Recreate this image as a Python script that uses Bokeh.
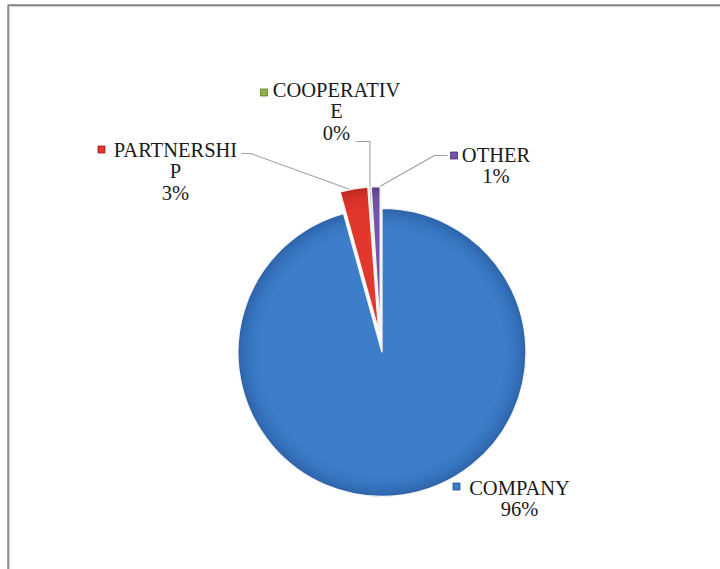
import numpy as np
from bokeh.plotting import figure
from bokeh.models import Range1d
from bokeh.core.properties import value
from bokeh.embed import file_html
from bokeh.resources import INLINE

# ---------------- data ----------------
categories = ["COMPANY", "PARTNERSHIP", "COOPERATIVE", "OTHER"]
shares = [95.7, 3.1, 0.2, 1.0]          # percent of total

# ---------------- styles / layout ----------------
fill_colors = ["#3D7DCA", "#E2372C", "#8DB544", "#7454AC"]
rim_colors = ["#1E4C8A", "#9A1D18", "#5B7A26", "#463070"]

PAGE_LEFT, PAGE_TOP = 0, 0
W, H = 720, 569
PAGE_BOTTOM = PAGE_TOP + H


def fy(py):
    """page y (down) -> data y (up)"""
    return PAGE_BOTTOM - py


CX, CY, R, EXPLODE = 380, 341, 144, 11
WRAP = 10
LINE_SP = 21.5
FONT = "Liberation Serif"
FONT_SIZE = "20.5px"

# label block: centre x, first line centre y, key x, key y (page coords)
label_layout = {
    "COMPANY": (519, 487, 456, 486),
    "PARTNERSHIP": (175, 149, 101, 149),
    "COOPERATIVE": (336, 89, 263.5, 92),
    "OTHER": (495.5, 154, 453.5, 155),
}
# leader lines: starting points (page coords); elbow = go horizontally to slice x first
leader_layout = {
    "PARTNERSHIP": ([(241, 153), (250, 153)], False),
    "COOPERATIVE": ([(355, 141)], True),
    "OTHER": ([(447, 155), (434, 155)], False),
}

p = figure(width=W, height=H, x_range=Range1d(PAGE_LEFT, PAGE_LEFT + W), y_range=Range1d(0, H),
           output_backend="svg", toolbar_location=None,
           x_axis_type=None, y_axis_type=None, min_border=0,
           outline_line_color=None, background_fill_color="white",
           border_fill_color="white")
p.grid.visible = False

# chart area border (top and left)
p.line([7.6, 7.6, 720], [fy(575), fy(4.6), fy(4.6)], line_color="#808080", line_width=1.6)
p.line([9.2, 9.2, 720], [fy(575), fy(6.2), fy(6.2)], line_color="#d0d0d0", line_width=1)

total = float(sum(shares))
bounds = np.concatenate([[0.0], np.cumsum(shares)]) / total * 2 * np.pi

geo = []
for i, cat in enumerate(categories):
    ts, te = bounds[i], bounds[i + 1]
    mid = 0.5 * (ts + te)
    ox = CX + EXPLODE * np.sin(mid)
    oy = CY - EXPLODE * np.cos(mid)        # page coords
    geo.append((ts, te, mid, ox, oy))

# leader lines (drawn under the slices)
for i, cat in enumerate(categories):
    if cat not in leader_layout:
        continue
    ts, te, mid, ox, oy = geo[i]
    ex = ox + R * 0.985 * np.sin(mid)
    ey = oy - R * 0.985 * np.cos(mid)
    pts, elbow = leader_layout[cat]
    pts = list(pts)
    if elbow:
        pts.append((ex, pts[-1][1]))
    pts.append((ex, ey))
    p.line([q[0] for q in pts], [fy(q[1]) for q in pts], line_color="#a0a0a0", line_width=1.1)

# slices
for i, cat in enumerate(categories):
    ts, te, mid, ox, oy = geo[i]
    sa, ea = np.pi / 2 - ts, np.pi / 2 - te
    p.wedge(x=[ox], y=[fy(oy)], radius=R, start_angle=[sa], end_angle=[ea],
            direction="clock", fill_color=fill_colors[i], line_color=None)
    n = 8
    for k in range(n):
        r0 = R * (0.86 + 0.14 * k / n)
        r1 = R * (0.86 + 0.14 * (k + 1) / n)
        p.annular_wedge(x=[ox], y=[fy(oy)], inner_radius=r0, outer_radius=r1,
                        start_angle=[sa], end_angle=[ea], direction="clock",
                        fill_color=rim_colors[i], fill_alpha=0.04 + 0.45 * ((k + 1) / n) ** 2,
                        line_color=None)
    p.wedge(x=[ox], y=[fy(oy)], radius=R, start_angle=[sa], end_angle=[ea],
            direction="clock", fill_color=None, line_color="#f4f4f4", line_width=1.3)

# labels
for i, cat in enumerate(categories):
    cx, y1, kx, ky = label_layout[cat]
    lines = [cat[j:j + WRAP] for j in range(0, len(cat), WRAP)]
    lines.append(f"{round(shares[i] / total * 100)}%")
    p.text(x=[cx] * len(lines), y=[fy(y1 + j * LINE_SP) for j in range(len(lines))],
           text=lines, text_font=value(FONT), text_font_size=FONT_SIZE,
           text_color="#1a1a1a", text_align="center", text_baseline="middle")
    p.scatter(x=[kx], y=[fy(ky)], marker="square", size=7,
              fill_color=fill_colors[i], line_color=rim_colors[i], line_width=0.8)

open("out.html", "w").write(file_html(p, INLINE))
